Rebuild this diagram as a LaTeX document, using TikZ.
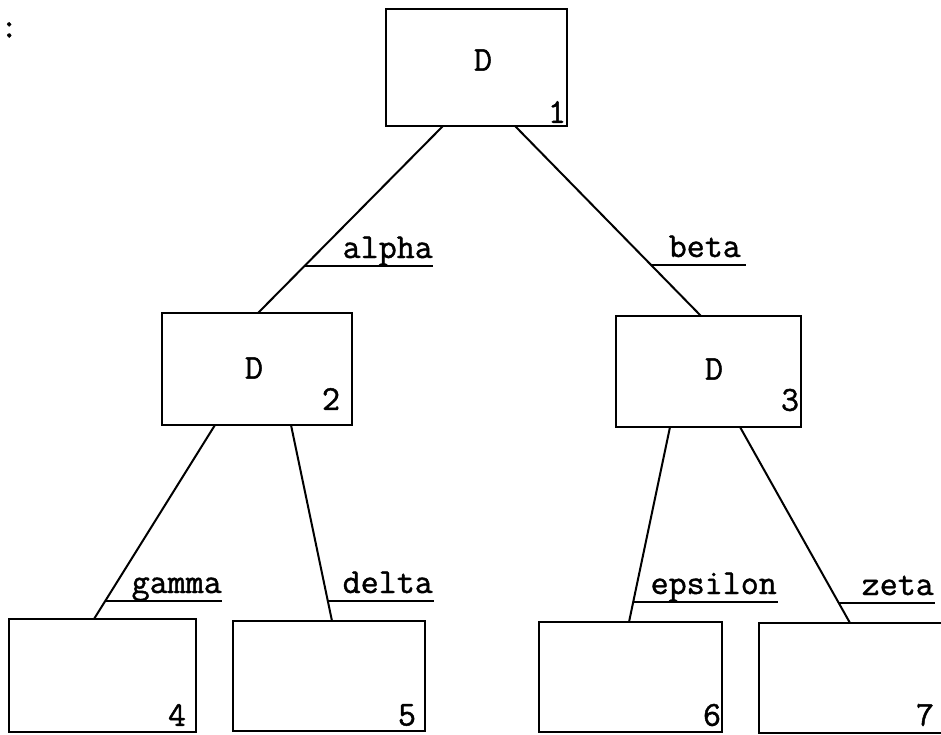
\documentclass[tikz,border=0pt]{standalone}
\usepackage{fontspec}
\setmonofont{Latin Modern Mono}[FakeBold=1.2]
\begin{document}
\begin{tikzpicture}[x=1pt,y=-1pt,
  box/.style={draw, line width=2.6pt, inner sep=0pt, rectangle},
  txt/.style={font=\ttfamily\fontsize{35}{35}\selectfont, inner sep=0pt},
  conn/.style={line width=2pt},
  uline/.style={line width=2pt}]
\clip (0,0) rectangle (941,735);
\node[txt, anchor=west] (colon) at (0,30) {:};
% boxes
\node[box, minimum width=181, minimum height=117] (b1) at (476.5,67.5) {};
\node[box, minimum width=190, minimum height=112] (b2) at (257,369) {};
\node[box, minimum width=185, minimum height=111] (b3) at (708.5,371.5) {};
\node[box, minimum width=187, minimum height=113] (b4) at (102.5,675.5) {};
\node[box, minimum width=192, minimum height=110] (b5) at (329,676) {};
\node[box, minimum width=183, minimum height=110] (b6) at (630.5,677) {};
\node[box, minimum width=189, minimum height=110] (b7) at (853.5,678) {};
% contents
\node[txt] (d1) at (483,60) {D};
\node[txt] (d2) at (254,368) {D};
\node[txt] (d3) at (714,369) {D};
\node[txt] (n1) at (557,112) {1};
\node[txt] (n2) at (331,399) {2};
\node[txt] (n3) at (790,400) {3};
\node[txt] (n4) at (177,715) {4};
\node[txt] (n5) at (407,715) {5};
\node[txt] (n6) at (712,715) {6};
\node[txt] (n7) at (925,715) {7};
% attachment points
\coordinate (p1a) at (443,126);
\coordinate (p1b) at (515,126);
\coordinate (p2t) at (258,313);
\coordinate (p3t) at (701,316);
\coordinate (p2a) at (215,425);
\coordinate (p2b) at (291,425);
\coordinate (p4t) at (94,619);
\coordinate (p5t) at (332,621);
\coordinate (p3a) at (670,427);
\coordinate (p3b) at (740,427);
\coordinate (p6t) at (629,622);
\coordinate (p7t) at (850,623);
% connectors
\draw[conn] (p1a) -- (p2t);
\draw[conn] (p1b) -- (p3t);
\draw[conn] (p2a) -- (p4t);
\draw[conn] (p2b) -- (p5t);
\draw[conn] (p3a) -- (p6t);
\draw[conn] (p3b) -- (p7t);
% labels
\node[txt, anchor=base east] (la) at (433,258) {alpha};
\coordinate (ua) at (intersection of p1a--p2t and 0,266--10,266);
\draw[uline] (ua) -- (ua -| la.east);
\node[txt, anchor=base east] (lb) at (741,257) {beta};
\coordinate (ub) at (intersection of p1b--p3t and 0,265--10,265);
\draw[uline] (ub) -- ([xshift=5pt]ub -| lb.east);
\node[txt, anchor=base east] (lg) at (222,593) {gamma};
\coordinate (ug) at (intersection of p2a--p4t and 0,601--10,601);
\draw[uline] (ug) -- (ug -| lg.east);
\node[txt, anchor=base east] (ld) at (433,593) {delta};
\coordinate (ud) at (intersection of p2b--p5t and 0,601--10,601);
\draw[uline] (ud) -- ([xshift=1pt]ud -| ld.east);
\node[txt, anchor=base east] (le) at (777,594) {epsilon};
\coordinate (ue) at (intersection of p3a--p6t and 0,602--10,602);
\draw[uline] (ue) -- ([xshift=1pt]ue -| le.east);
\node[txt, anchor=base east] (lz) at (934,595) {zeta};
\coordinate (uz) at (intersection of p3b--p7t and 0,603--10,603);
\draw[uline] (uz) -- ([xshift=1pt]uz -| lz.east);
\end{tikzpicture}
\end{document}
